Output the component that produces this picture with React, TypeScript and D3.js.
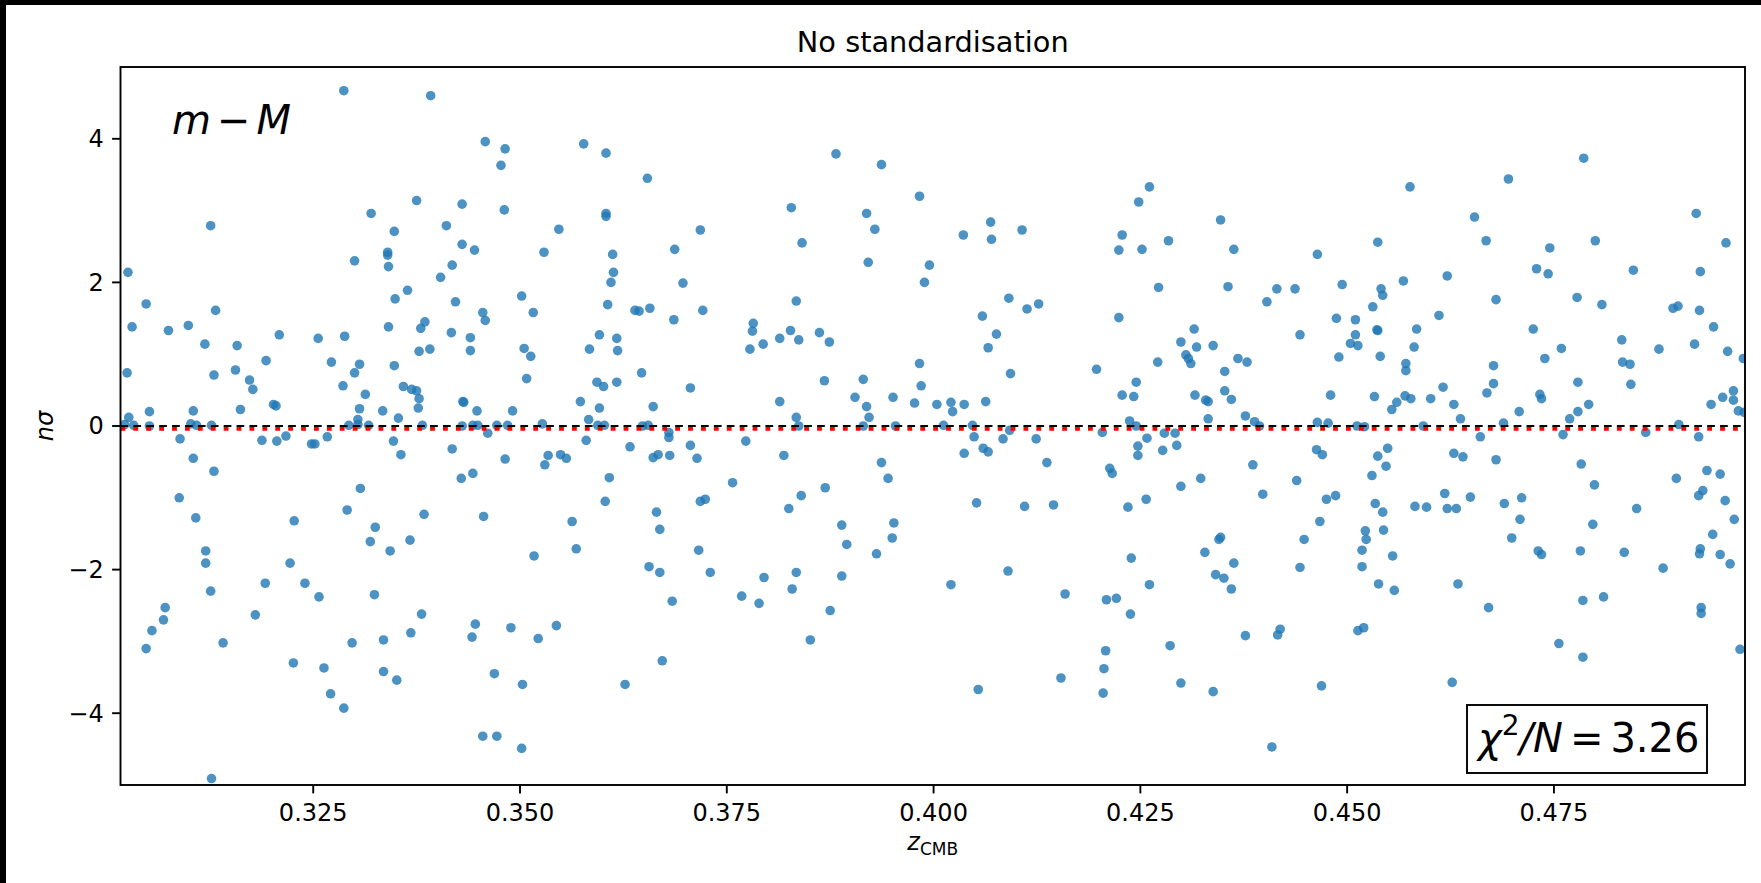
import React from 'react';
import * as d3 from 'd3';

// Hubble residuals (z_CMB, n·sigma) with no standardisation applied
const supernovae: [number, number][] = [
  // upper half, low redshift
  [0.3287, 4.67], [0.3392, 4.6], [0.3458, 3.96], [0.3482, 3.86], [0.3477, 3.63], [0.3577, 3.93], [0.3604, 3.8], [0.3654, 3.45],
  [0.3375, 3.14], [0.343, 3.09], [0.3481, 3.01], [0.332, 2.96], [0.3604, 2.96], [0.3604, 2.92], [0.3126, 2.79], [0.3411, 2.79],
  [0.3348, 2.71], [0.3547, 2.74], [0.343, 2.53], [0.3445, 2.45], [0.3529, 2.42], [0.334, 2.42], [0.334, 2.38], [0.33, 2.3],
  [0.3341, 2.22], [0.3418, 2.24], [0.3612, 2.39], [0.3613, 2.14], [0.361, 2.0], [0.3026, 2.14], [0.3404, 2.07], [0.3364, 1.89],
  [0.3349, 1.77], [0.3422, 1.73], [0.3502, 1.81], [0.3048, 1.7], [0.3132, 1.61], [0.3455, 1.58], [0.3458, 1.47], [0.3516, 1.58],
  [0.3606, 1.69], [0.3639, 1.61], [0.3644, 1.6], [0.3657, 1.64], [0.3031, 1.38], [0.3075, 1.33], [0.3099, 1.4], [0.3341, 1.38],
  [0.338, 1.36], [0.3385, 1.45], [0.3417, 1.3], [0.344, 1.23], [0.344, 1.05], [0.3119, 1.14], [0.3158, 1.12], [0.3209, 1.27],
  [0.3256, 1.22], [0.3288, 1.25], [0.3378, 1.04], [0.3391, 1.07], [0.3505, 1.08], [0.3513, 0.97], [0.3596, 1.27], [0.3584, 1.07],
  [0.3617, 1.22], [0.3618, 1.05], [0.3193, 0.91], [0.3272, 0.89], [0.3025, 0.74], [0.313, 0.71], [0.3156, 0.78], [0.3173, 0.64],
  [0.3177, 0.51], [0.3306, 0.86], [0.33, 0.74], [0.3348, 0.84], [0.3286, 0.56], [0.3313, 0.44], [0.3359, 0.55], [0.3369, 0.51],
  [0.3375, 0.49], [0.3378, 0.38], [0.3377, 0.25], [0.3431, 0.34], [0.3432, 0.33], [0.3508, 0.66], [0.3491, 0.21], [0.3448, 0.21],
  [0.3593, 0.61], [0.3601, 0.55], [0.3617, 0.61], [0.3647, 0.74], [0.3573, 0.34], [0.3596, 0.25], [0.3661, 0.27], [0.3027, 0.12],
  [0.3052, 0.2], [0.3105, 0.21], [0.3162, 0.23], [0.3202, 0.3], [0.3205, 0.28], [0.3306, 0.24], [0.3334, 0.21], [0.3353, 0.11],
  [0.3583, 0.09], [0.3304, 0.09],
  // upper half, mid redshift
  [0.3882, 3.79], [0.3937, 3.64], [0.3983, 3.2], [0.3828, 3.04], [0.3919, 2.96], [0.3929, 2.74], [0.3718, 2.73], [0.3687, 2.46],
  [0.3841, 2.55], [0.3921, 2.28], [0.4036, 2.66], [0.4069, 2.84], [0.407, 2.6], [0.4107, 2.73], [0.3995, 2.24], [0.3989, 2.0],
  [0.3697, 1.99], [0.4228, 2.66], [0.4224, 2.45], [0.4252, 2.46], [0.4248, 3.12], [0.4261, 3.33], [0.4284, 2.58], [0.4272, 1.93],
  [0.3834, 1.74], [0.3721, 1.61], [0.3686, 1.48], [0.4091, 1.78], [0.4113, 1.63], [0.4127, 1.7], [0.4059, 1.53], [0.4224, 1.51],
  [0.3782, 1.43], [0.3781, 1.32], [0.3778, 1.07], [0.3794, 1.14], [0.3814, 1.22], [0.3827, 1.33], [0.3837, 1.2], [0.3862, 1.3],
  [0.3874, 1.17], [0.4076, 1.28], [0.4066, 1.09], [0.4315, 1.35], [0.4299, 1.17], [0.4318, 1.1], [0.4305, 0.99], [0.4308, 0.94],
  [0.4311, 0.87], [0.4271, 0.89], [0.3983, 0.87], [0.4197, 0.79], [0.3706, 0.53], [0.3868, 0.63], [0.3915, 0.65], [0.3985, 0.56],
  [0.4093, 0.73], [0.4245, 0.61], [0.3814, 0.34], [0.3905, 0.4], [0.3919, 0.27], [0.3951, 0.4], [0.3977, 0.32], [0.4004, 0.3],
  [0.4021, 0.33], [0.4023, 0.2], [0.4037, 0.3], [0.4063, 0.34], [0.4228, 0.43], [0.4242, 0.41], [0.4316, 0.43], [0.3834, 0.12],
  [0.3922, 0.12], [0.4237, 0.07],
  // upper half, high redshift
  [0.4786, 3.73], [0.4695, 3.44], [0.4576, 3.33], [0.4922, 2.96], [0.4654, 2.91], [0.4347, 2.87], [0.4537, 2.56], [0.4668, 2.58],
  [0.48, 2.58], [0.4958, 2.55], [0.4363, 2.46], [0.4464, 2.39], [0.4745, 2.48], [0.4729, 2.19], [0.4743, 2.12], [0.4846, 2.17],
  [0.4927, 2.15], [0.4568, 2.02], [0.4621, 2.09], [0.4356, 1.94], [0.4415, 1.91], [0.4437, 1.91], [0.4494, 1.97], [0.4541, 1.91],
  [0.4543, 1.82], [0.4403, 1.73], [0.4531, 1.66], [0.468, 1.76], [0.4778, 1.79], [0.4808, 1.69], [0.4894, 1.64], [0.49, 1.67],
  [0.4926, 1.61], [0.4611, 1.54], [0.4943, 1.38], [0.4487, 1.5], [0.451, 1.48], [0.4443, 1.27], [0.451, 1.27], [0.4504, 1.15],
  [0.4513, 1.12], [0.4536, 1.34], [0.4537, 1.33], [0.4584, 1.35], [0.4581, 1.1], [0.454, 0.97], [0.4338, 1.12], [0.4725, 1.35],
  [0.4832, 1.2], [0.4759, 1.08], [0.4877, 1.07], [0.492, 1.14], [0.496, 1.04], [0.4979, 0.94], [0.4368, 0.94], [0.4379, 0.89],
  [0.449, 0.96], [0.4571, 0.87], [0.4571, 0.77], [0.4739, 0.94], [0.4833, 0.89], [0.4842, 0.86], [0.4677, 0.84], [0.4352, 0.76],
  [0.4352, 0.49], [0.436, 0.37], [0.4329, 0.36], [0.4332, 0.34], [0.448, 0.43], [0.4533, 0.41], [0.4554, 0.23], [0.456, 0.33],
  [0.457, 0.42], [0.4577, 0.38], [0.4601, 0.38], [0.4616, 0.54], [0.4629, 0.3], [0.4637, 0.1], [0.4669, 0.46], [0.4677, 0.59],
  [0.4708, 0.2], [0.4733, 0.44], [0.4735, 0.38], [0.4779, 0.61], [0.4779, 0.2], [0.4792, 0.3], [0.4769, 0.1], [0.4843, 0.58],
  [0.494, 0.3], [0.4954, 0.4], [0.4967, 0.49], [0.4967, 0.36], [0.4973, 0.21], [0.498, 0.19], [0.4332, 0.1], [0.4377, 0.14],
  [0.4388, 0.06], [0.4464, 0.05], [0.4477, 0.04], [0.4689, 0.04],
  // on the zero line
  [0.3022, 0.02], [0.3033, 0.01], [0.3052, 0.0], [0.3102, 0.03], [0.3109, 0.01], [0.3127, 0.01], [0.3293, 0.01], [0.3304, 0.02],
  [0.3317, 0.01], [0.3382, 0.01], [0.343, 0.0], [0.3443, 0.01], [0.3449, 0.01], [0.3472, 0.01], [0.3485, 0.01], [0.3527, 0.03],
  [0.3594, 0.01], [0.3602, 0.01], [0.3648, 0.0], [0.3655, 0.01], [0.3837, 0.0], [0.3915, 0.0], [0.3954, 0.0], [0.4012, 0.01],
  [0.4047, 0.01], [0.4245, 0.0], [0.4394, 0.0], [0.4512, 0.0], [0.4521, -0.01], [0.4592, 0.0], [0.4901, 0.02],
  // lower half, low redshift
  [0.3089, -0.18], [0.3105, -0.45], [0.313, -0.63], [0.3088, -1.0], [0.3108, -1.28], [0.312, -1.74], [0.312, -1.91], [0.3126, -2.3],
  [0.3071, -2.53], [0.3069, -2.7], [0.3055, -2.85], [0.3048, -3.1], [0.3141, -3.02], [0.3127, -4.91], [0.3188, -0.2], [0.3206, -0.21],
  [0.3217, -0.14], [0.3248, -0.25], [0.3252, -0.25], [0.3267, -0.15], [0.3227, -1.32], [0.3222, -1.91], [0.3192, -2.19], [0.324, -2.19],
  [0.3257, -2.38], [0.318, -2.63], [0.3226, -3.3], [0.3263, -3.37], [0.3271, -3.73], [0.3287, -3.93], [0.3307, -0.87], [0.3291, -1.17],
  [0.3325, -1.41], [0.3319, -1.61], [0.3343, -1.74], [0.3367, -1.59], [0.3384, -1.23], [0.3324, -2.35], [0.3381, -2.62], [0.3368, -2.88],
  [0.3335, -2.98], [0.3297, -3.02], [0.3335, -3.42], [0.3351, -3.54], [0.3347, -0.21], [0.3356, -0.4], [0.3418, -0.32], [0.3429, -0.73],
  [0.3443, -0.66], [0.3461, -0.1], [0.3482, -0.46], [0.3456, -1.26], [0.3517, -1.81], [0.3446, -2.76], [0.3442, -2.94], [0.3489, -2.81],
  [0.3469, -3.45], [0.3503, -3.6], [0.3455, -4.32], [0.3472, -4.32], [0.3502, -4.49], [0.3522, -2.96], [0.3544, -2.78], [0.353, -0.54],
  [0.3534, -0.41], [0.3549, -0.4], [0.3556, -0.45], [0.358, -0.2], [0.3563, -1.33], [0.3568, -1.71], [0.3608, -0.72], [0.3603, -1.05],
  [0.3633, -0.29], [0.3661, -0.44], [0.3667, -0.4], [0.3665, -1.2], [0.3669, -1.44], [0.3656, -1.96], [0.3669, -2.04], [0.3672, -3.27],
  [0.3627, -3.6],
  // lower half, mid redshift
  [0.368, -0.09], [0.368, -0.16], [0.3681, -0.41], [0.3706, -0.27], [0.3714, -0.45], [0.3773, -0.21], [0.3819, -0.41], [0.3757, -0.79],
  [0.3718, -1.05], [0.3724, -1.02], [0.3716, -1.73], [0.373, -2.04], [0.3684, -2.44], [0.3768, -2.37], [0.3795, -2.11], [0.3789, -2.47],
  [0.3825, -1.15], [0.384, -0.97], [0.3834, -2.04], [0.3829, -2.27], [0.3851, -2.98], [0.3869, -0.86], [0.3889, -1.38], [0.3895, -1.65],
  [0.3889, -2.09], [0.3875, -2.57], [0.3931, -1.78], [0.3937, -0.51], [0.3945, -0.73], [0.3952, -1.35], [0.395, -1.56], [0.4021, -2.21],
  [0.4037, -0.38], [0.4049, -0.15], [0.406, -0.31], [0.4066, -0.36], [0.4052, -1.07], [0.4054, -3.67], [0.4084, -0.18], [0.4092, -0.06],
  [0.4124, -0.18], [0.4137, -0.51], [0.411, -1.12], [0.4145, -1.1], [0.409, -2.02], [0.4159, -2.34], [0.4154, -3.51], [0.4204, -0.09],
  [0.4213, -0.59], [0.4216, -0.66], [0.4235, -1.13], [0.4239, -1.84], [0.4209, -2.42], [0.4221, -2.4], [0.4238, -2.62], [0.4208, -3.13],
  [0.4206, -3.38], [0.4205, -3.72], [0.4247, -0.28], [0.4247, -0.41], [0.4258, -0.17], [0.4277, -0.34], [0.4279, -0.1], [0.4292, -0.1],
  [0.4294, -0.27], [0.4257, -1.02], [0.4261, -2.21], [0.4299, -0.84], [0.4323, -0.73], [0.4286, -3.06], [0.4299, -3.58], [0.4328, -1.76],
  // lower half, high redshift
  [0.4341, -2.07], [0.4351, -2.12], [0.436, -2.27], [0.4363, -1.91], [0.4345, -1.58], [0.4347, -1.55], [0.4338, -3.7], [0.4377, -2.92],
  [0.4386, -0.54], [0.4398, -0.95], [0.4416, -2.91], [0.4419, -2.83], [0.4409, -4.47], [0.4439, -0.76], [0.4443, -1.97], [0.4448, -1.58],
  [0.4463, -0.33], [0.447, -0.4], [0.4475, -1.02], [0.4486, -0.97], [0.4467, -1.33], [0.4469, -3.62], [0.4513, -2.85], [0.452, -2.81],
  [0.4518, -1.73], [0.4518, -1.96], [0.4522, -1.46], [0.4523, -1.58], [0.453, -0.69], [0.4534, -1.08], [0.4537, -0.42], [0.4549, -0.31],
  [0.4547, -0.56], [0.4543, -1.2], [0.4544, -1.45], [0.4538, -2.2], [0.4555, -1.81], [0.4557, -2.29], [0.4582, -1.12], [0.4596, -1.13],
  [0.4618, -0.94], [0.4621, -1.15], [0.4632, -1.15], [0.4629, -0.38], [0.464, -0.43], [0.4649, -0.99], [0.4634, -2.2], [0.4627, -3.57],
  [0.4661, -0.15], [0.468, -0.47], [0.469, -1.08], [0.4711, -1.0], [0.4709, -1.3], [0.4699, -1.56], [0.4671, -2.53], [0.4731, -1.74],
  [0.4735, -1.79], [0.4761, -0.12], [0.4783, -0.53], [0.4799, -0.82], [0.4797, -1.37], [0.4782, -1.74], [0.4785, -2.43], [0.481, -2.38],
  [0.4756, -3.03], [0.4785, -3.22], [0.4861, -0.09], [0.485, -1.15], [0.4835, -1.76], [0.4882, -1.98], [0.4898, -0.73], [0.4925, -0.15],
  [0.4935, -0.62], [0.4951, -0.67], [0.493, -0.9], [0.4925, -0.97], [0.4957, -1.04], [0.4968, -1.3], [0.4942, -1.51], [0.4927, -1.71],
  [0.4926, -1.78], [0.4951, -1.79], [0.4963, -1.92], [0.4928, -2.53], [0.4928, -2.61], [0.4975, -3.11],
];

const zDomain: [number, number] = [0.3017, 0.4981];
const sigmaDomain: [number, number] = [-5, 5];
const zTicks = [0.325, 0.35, 0.375, 0.4, 0.425, 0.45, 0.475];
const sigmaTicks = [-4, -2, 0, 2, 4];
const meanResidual = -0.035;
const chi2PerN = 3.26;
const titleText = 'No standardisation';

const W = 1761;
const H = 883;
const frame = { left: 120.5, right: 1745, top: 67, bottom: 785 };
const FONT = '"DejaVu Sans", Verdana, sans-serif';
const TICK = 8.4;

export default function App() {
  const x = d3.scaleLinear().domain(zDomain).range([frame.left, frame.right]);
  const y = d3.scaleLinear().domain(sigmaDomain).range([frame.bottom, frame.top]);
  const fmtZ = d3.format('.3f');
  const fmtSigma = (v: number) => (v < 0 ? '\u2212' + Math.abs(v) : String(v));
  const cx = (frame.left + frame.right) / 2;

  return (
    <svg
      width={W}
      height={H}
      viewBox={`0 0 ${W} ${H}`}
      style={{ position: 'absolute', left: 0, top: 0, background: '#fff' }}
      fontFamily={FONT}
    >
      <defs>
        <clipPath id="plot-area">
          <rect x={frame.left} y={frame.top} width={frame.right - frame.left} height={frame.bottom - frame.top} />
        </clipPath>
      </defs>
      <rect x={0} y={0} width={W} height={H} fill="#fff" />
      <rect x={0} y={0} width={W} height={5} fill="#000" />
      <rect x={0} y={0} width={6} height={H} fill="#000" />

      <g clipPath="url(#plot-area)">
        {supernovae.map(([z, s], i) => (
          <circle key={i} cx={x(z)} cy={y(s)} r={4.8} fill="#1f77b4" fillOpacity={0.8} />
        ))}
        <line
          x1={frame.left}
          x2={frame.right}
          y1={y(meanResidual)}
          y2={y(meanResidual)}
          stroke="#ff0000"
          strokeWidth={4.6}
          strokeDasharray="4.8 8.1"
        />
        <line
          x1={frame.left}
          x2={frame.right}
          y1={y(0)}
          y2={y(0)}
          stroke="#000"
          strokeWidth={2.2}
          strokeDasharray="7.7 5.2"
        />
      </g>

      {/* axes frame */}
      <rect
        x={frame.left}
        y={frame.top}
        width={frame.right - frame.left}
        height={frame.bottom - frame.top}
        fill="none"
        stroke="#000"
        strokeWidth={1.9}
      />

      {/* x ticks */}
      {zTicks.map((t) => (
        <g key={t}>
          <line x1={x(t)} x2={x(t)} y1={frame.bottom} y2={frame.bottom + TICK} stroke="#000" strokeWidth={1.9} />
          <text x={x(t)} y={821} fontSize={24} textAnchor="middle" fill="#000">
            {fmtZ(t)}
          </text>
        </g>
      ))}

      {/* y ticks */}
      {sigmaTicks.map((t) => (
        <g key={t}>
          <line x1={frame.left - TICK} x2={frame.left} y1={y(t)} y2={y(t)} stroke="#000" strokeWidth={1.9} />
          <text x={frame.left - 2 * TICK} y={y(t)} dy="0.35em" fontSize={24} textAnchor="end" fill="#000">
            {fmtSigma(t)}
          </text>
        </g>
      ))}

      {/* axis labels */}
      <text x={cx} y={850} fontSize={24} textAnchor="middle" fill="#000">
        <tspan fontStyle="italic">z</tspan>
        <tspan fontSize={17} dy={5}>CMB</tspan>
      </text>
      <text transform={`translate(53, ${y(0)}) rotate(-90)`} fontSize={24} textAnchor="middle" fontStyle="italic" fill="#000">
        nσ
      </text>

      {/* title */}
      <text x={cx} y={52} fontSize={28.8} textAnchor="middle" fill="#000">
        {titleText}
      </text>

      {/* quantity label */}
      <text x={172} y={134} fontSize={40} fill="#000">
        <tspan fontStyle="italic">m</tspan>
        <tspan dx={6}>{'\u2212'}</tspan>
        <tspan dx={6} fontStyle="italic">M</tspan>
      </text>

      {/* goodness of fit box */}
      <rect x={1467} y={705} width={240} height={68} fill="#fff" stroke="#000" strokeWidth={1.9} />
      <text x={1478} y={752} fontSize={40} fill="#000">
        <tspan fontStyle="italic">χ</tspan>
        <tspan fontSize={28} dy={-17}>2</tspan>
        <tspan dy={17} fontStyle="italic">/N</tspan>
        <tspan dx={7}>=</tspan>
        <tspan dx={7}>{chi2PerN.toFixed(2)}</tspan>
      </text>
    </svg>
  );
}
